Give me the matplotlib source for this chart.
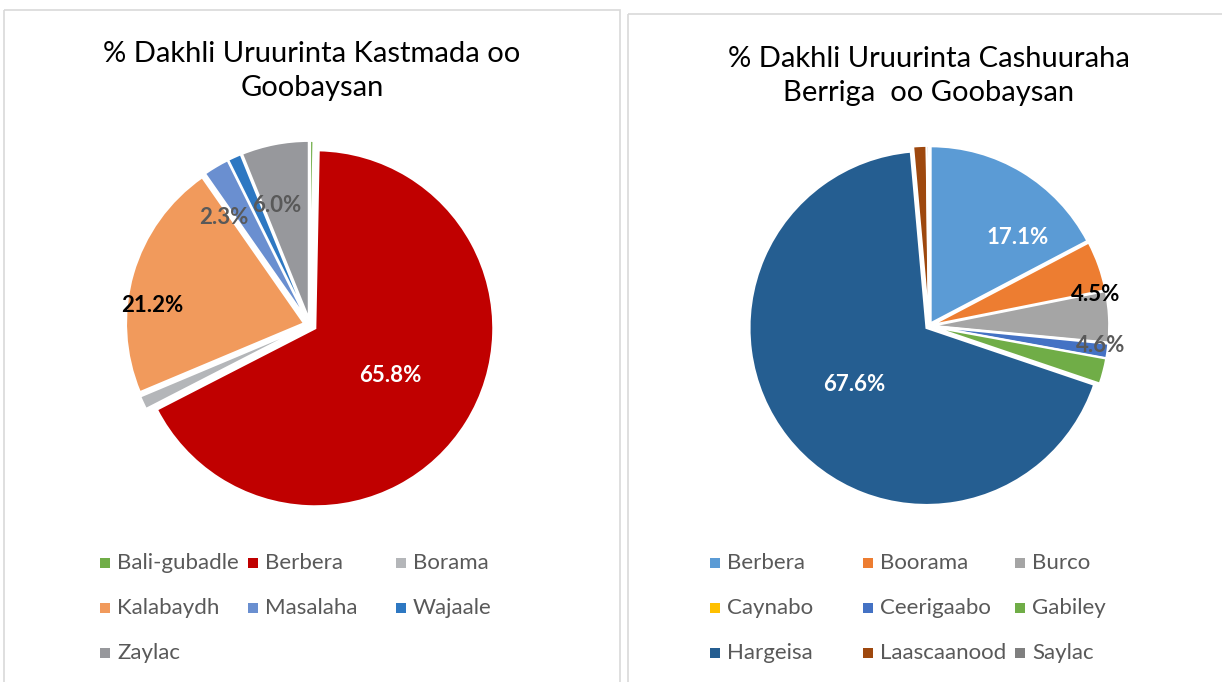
import numpy as np
import matplotlib
matplotlib.use('agg')
import matplotlib.pyplot as plt
from matplotlib.patches import Rectangle

plt.rcParams['font.family'] = ['Lato', 'DejaVu Sans']

W, H = 1222, 682

# --- left chart data ---
left_title = '% Dakhli Uruurinta Kastmada oo\nGoobaysan'
left_names = ['Bali-gubadle', 'Berbera', 'Borama', 'Kalabaydh', 'Masalaha', 'Wajaale', 'Zaylac']
left_vals = [0.3, 65.8, 1.2, 21.2, 2.3, 1.2, 6.0]
left_colors = ['#70AD47', '#C00000', '#B4B6B9', '#F19A5C', '#6A8FD0', '#2E78C2', '#97989C']
left_labels = ['', '65.8%', '', '21.2%', '2.3%', '', '6.0%']
left_label_colors = [None, 'white', None, 'black', '#595959', None, '#595959']

# --- right chart data ---
right_title = '% Dakhli Uruurinta Cashuuraha\nBerriga  oo Goobaysan'
right_names = ['Berbera', 'Boorama', 'Burco', 'Caynabo', 'Ceerigaabo', 'Gabiley',
               'Hargeisa', 'Laascaanood', 'Saylac']
right_vals = [17.1, 4.5, 4.6, 0.05, 1.3, 2.3, 67.6, 1.2, 0.2]
right_colors = ['#5B9BD5', '#ED7D31', '#A5A5A5', '#FFC000', '#4472C4', '#70AD47',
                '#255E91', '#9E480E', '#7F7F7F']
right_labels = ['17.1%', '4.5%', '4.6%', '', '', '', '67.6%', '', '']
right_label_colors = ['white', 'black', '#595959', None, None, None, 'white', None, None]


def draw_pie(fig, cx, cy, rpx, vals, colors, labels, lcolors, dists, shifts, explode):
    lim = 1.15
    size = 2 * lim * rpx
    ax = fig.add_axes([(cx - size / 2) / W, (H - cy - size / 2) / H, size / W, size / H])
    wedges, _ = ax.pie(vals, colors=colors, startangle=90, counterclock=False,
                       explode=[explode] * len(vals),
                       wedgeprops=dict(edgecolor='white', linewidth=1.5))
    ax.set_xlim(-lim, lim)
    ax.set_ylim(-lim, lim)
    ax.set_aspect('equal')
    ax.axis('off')
    # data labels placed near each wedge's middle angle
    for w, lab, c, d, s in zip(wedges, labels, lcolors, dists, shifts):
        if not lab:
            continue
        a = np.deg2rad((w.theta1 + w.theta2) / 2 + s)
        x = w.center[0] + d * np.cos(a)
        y = w.center[1] + d * np.sin(a)
        ax.text(x, y, lab, color=c, fontsize=16, fontweight='bold', ha='center', va='center')
    return ax


fig = plt.figure(figsize=(W / 100, H / 100), dpi=100)

draw_pie(fig, 310, 325, 178, left_vals, left_colors, left_labels, left_label_colors,
         [0, 0.5, 0, 0.86, 0.74, 0, 0.66], [0, 0, 0, 9.5, 8.5, 0, 4.8], 0.035)
draw_pie(fig, 929, 326, 177, right_vals, right_colors, right_labels, right_label_colors,
         [0.69, 0.94, 0.96, 0, 0, 0, 0.52, 0, 0], [-14, -9, -9.6, 0, 0, 0, 0, 0, 0], 0.018)

# overlay in pixel coordinates for boxes, titles and legends
ov = fig.add_axes([0, 0, 1, 1])
ov.set_xlim(0, W)
ov.set_ylim(H, 0)
ov.axis('off')
ov.patch.set_visible(False)

ov.add_patch(Rectangle((4, 10), 616, 700, fill=False, edgecolor='#D9D9D9', lw=1.2))
ov.add_patch(Rectangle((628, 14), 620, 700, fill=False, edgecolor='#D9D9D9', lw=1.2))

ov.text(312, 71, left_title, ha='center', va='center', fontsize=21, linespacing=1.4, color='black')
ov.text(929, 76, right_title, ha='center', va='center', fontsize=21, linespacing=1.4, color='black')


def draw_legend(names, colors, col_x, row_y):
    for i, (n, c) in enumerate(zip(names, colors)):
        x = col_x[i % 3]
        y = row_y[i // 3]
        ov.scatter([x], [y], marker='s', s=42, color=c, linewidths=0)
        ov.text(x + 12, y, n, ha='left', va='center', fontsize=16, color='#595959')


draw_legend(left_names, left_colors, [105, 253, 401], [563, 608, 653])
draw_legend(right_names, right_colors, [715, 868, 1020], [563, 608, 653])

fig.savefig('out.png', dpi=100, facecolor='white')
